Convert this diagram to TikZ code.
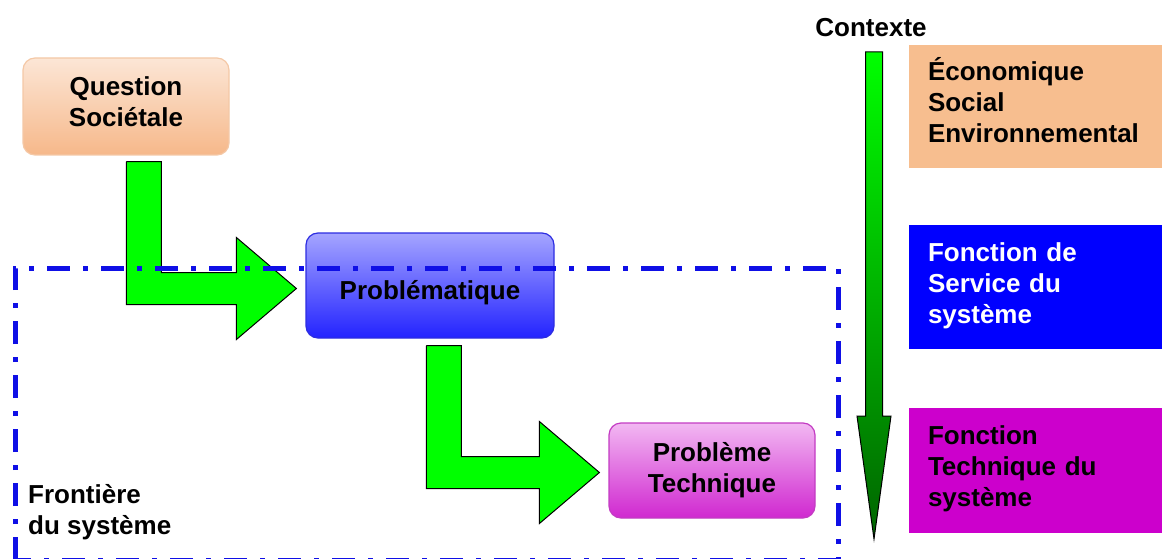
\documentclass[tikz,border=0pt]{standalone}
\usepackage{fontspec}
\setmainfont{Liberation Sans}
\usetikzlibrary{calc}
\definecolor{peachtop}{RGB}{252,230,214}
\definecolor{peachbot}{RGB}{246,184,138}
\definecolor{peachline}{RGB}{244,200,166}
\definecolor{peach}{RGB}{247,190,143}
\definecolor{bluetop}{RGB}{165,165,255}
\definecolor{bluebot}{RGB}{35,35,255}
\definecolor{blueline}{RGB}{45,45,225}
\definecolor{mauvetop}{RGB}{242,184,242}
\definecolor{mauvebot}{RGB}{208,40,208}
\definecolor{mauveline}{RGB}{195,60,195}
\definecolor{servicefill}{RGB}{0,0,255}
\definecolor{techfill}{RGB}{204,0,204}
\definecolor{arrowgreen}{RGB}{0,255,0}
\definecolor{darkgreen}{RGB}{0,100,0}
\definecolor{frameblue}{RGB}{15,15,230}
\newcommand{\bigfont}{\fontsize{26}{31}\selectfont\bfseries}
\newcommand{\bentarrow}[2]{\draw[bentarrow] (#1) -- ++(35,0) |- ($(#2)+(-60,-16)$) -- ++(0,-35) -- (#2) -- ++(-60,51) -- ++(0,-35) -| (#1);}

\begin{document}
\begin{tikzpicture}[x = 1pt, y = -1pt, every node/.style = {font = \bigfont, align = center, inner sep = 0pt},
  stagebox/.style = {rounded corners = 12pt, draw, line width = 1.2pt},
  lift/.style = {execute at end node = {\rule[-#1]{0pt}{#1}}},
  ctxbox/.style = {minimum width = 253pt, text width = 215pt, align = left, inner xsep = 19pt,
    execute at begin node = {\rule{0pt}{26pt}}, lift = 16pt},
  bentarrow/.style = {draw = black, fill = arrowgreen, line width = 1pt, line join = miter},
  ctxarrow/.style = {draw = black, line width = 1pt, top color = arrowgreen, bottom color = darkgreen},
  frontier/.style = {draw = frameblue, line width = 5pt, dash pattern = on 23pt off 13pt on 5pt off 13pt}]
	\useasboundingbox (0, 0) rectangle (1162, 559);

	% the three stages
	\node[stagebox, top color = peachtop, bottom color = peachbot, draw = peachline, minimum width = 206pt, minimum height = 97pt, lift = 9pt] (question) at (126, 106.5) {Question\\Sociétale};
	\node[stagebox, top color = bluetop, bottom color = bluebot, draw = blueline, minimum width = 248pt, minimum height = 105pt, text height = 27pt, text depth = 0pt] (problematique) at (430, 285.5) {Problématique};
	\node[stagebox, top color = mauvetop, bottom color = mauvebot, draw = mauveline, minimum width = 206pt, minimum height = 95pt] (probtech) at (712, 470.5) {Problème\\Technique};

	% context column
	\node (contexte) at (871, 28) {Contexte};
	\node[ctxbox, fill = peach, minimum height = 123pt] (eco) at (1035.5, 106.5) {Économique\\Social\\Environnemental};
	\node[ctxbox, fill = servicefill, text = white, minimum height = 124pt] (service) at (1035.5, 287) {Fonction de\\Service du\\système};
	\node[ctxbox, fill = techfill, minimum height = 125pt] (tech) at (1035.5, 470.5) {Fonction\\Technique du\\système};

	\coordinate (ctxtop) at (874, 52);
	\coordinate (ctxtip) at (874, 539);
	\shadedraw[ctxarrow] ($(ctxtop)+(-8.5,0)$) -- ($(ctxtop)+(8.5,0)$) -- ($(ctxtip)+(8.5,-123)$) -- ($(ctxtip)+(17,-123)$) -- (ctxtip) -- ($(ctxtip)+(-17,-123)$) -- ($(ctxtip)+(-8.5,-123)$) -- cycle;

	% bent arrows between stages
	\coordinate (s1) at ($(question.south west)+(104,6)$);
	\coordinate (t1) at ($(problematique.west)+(-9,3)$);
	\coordinate (s2) at ($(problematique.south west)+(121,7)$);
	\coordinate (t2) at ($(probtech.west)+(-9,2)$);
	\bentarrow{s1}{t1}
	\bentarrow{s2}{t2}

	% system boundary
	\draw[frontier] (15, 560) -- (15, 268) -- (838, 268) -- (838, 560) -- cycle;
	\node[anchor = west, align = left] (frontiere) at (28, 512) {Frontière\\du système};
\end{tikzpicture}
\end{document}
